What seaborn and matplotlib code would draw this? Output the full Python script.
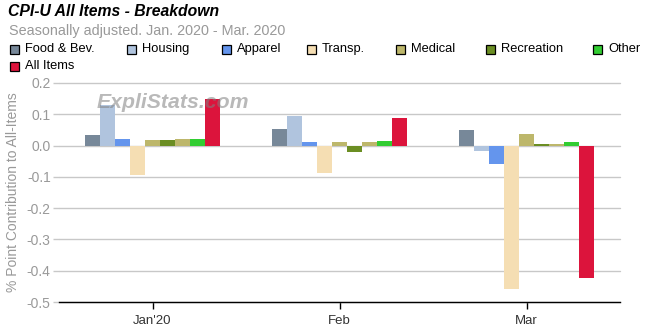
import matplotlib
matplotlib.use("Agg")
import matplotlib.pyplot as plt
import seaborn as sns
import pandas as pd
from matplotlib.patches import Rectangle

# Monthly point contributions to the all-items CPI-U change
months = ["Jan'20", "Feb", "Mar"]
series = ["Food & Bev.", "Housing", "Apparel", "Transp.", "Medical",
          "Recreation", "Educ. & Comm.", "Other", "All Items"]
values = {
    "Food & Bev.":   [0.034, 0.054, 0.051],
    "Housing":       [0.130, 0.095, -0.018],
    "Apparel":       [0.020, 0.013, -0.059],
    "Transp.":       [-0.093, -0.088, -0.460],
    "Medical":       [0.018, 0.010, 0.038],
    "Recreation":    [0.018, -0.021, 0.006],
    "Educ. & Comm.": [0.020, 0.010, 0.006],
    "Other":         [0.020, 0.016, 0.010],
    "All Items":     [0.150, 0.089, -0.424],
}
colors = ["#778899", "#B0C4DE", "#6495ED", "#F5DEB3", "#BDB76B",
          "#6B8E23", "#BDB76B", "#32CD32", "#DC143C"]
legend_series = ["Food & Bev.", "Housing", "Apparel", "Transp.", "Medical",
                 "Recreation", "Other", "All Items"]
yticks = [0.2, 0.1, 0.0, -0.1, -0.2, -0.3, -0.4, -0.5]

rows = [(m, s, values[s][i]) for s in series for i, m in enumerate(months)]
df = pd.DataFrame(rows, columns=["month", "series", "value"])

sns.set_theme(style="white")
plt.rcParams["font.family"] = ["Liberation Sans", "DejaVu Sans"]

W, H = 650, 330
fig = plt.figure(figsize=(W / 100, H / 100), dpi=100)
ax = fig.add_axes([59 / W, 1 - 302 / H, (620 - 59) / W, (302 - 83) / H])

palette = dict(zip(series, colors))
sns.barplot(data=df, x="month", y="value", hue="series", order=months,
            hue_order=series, palette=palette, width=0.722, dodge=True,
            saturation=1, linewidth=0, legend=False, ax=ax)

ax.set_xlim(-0.5, 2.5)
ax.set_ylim(-0.5, 0.2)
ax.set_yticks(yticks)
ax.set_yticklabels([f"{t:.1f}" for t in yticks], color="#999999", fontsize=10)
ax.yaxis.grid(True, color="#C8C8C8", linewidth=1)
for gl in ax.get_ygridlines():
    gl.set_clip_on(False)
ax.set_axisbelow(True)
for side in ["top", "right", "left"]:
    ax.spines[side].set_visible(False)
ax.spines["bottom"].set_color("#000000")
ax.spines["bottom"].set_linewidth(1)
ax.tick_params(axis="x", bottom=True, length=5, width=1, color="#000000",
               labelsize=9.5, labelcolor="#333333", pad=4)
ax.tick_params(axis="y", left=True, length=4, width=1, color="#C8C8C8", pad=2)
ax.set_xlabel("")
ax.set_ylabel("% Point Contribution to All-Items", color="#999999",
              fontsize=10, labelpad=5)

# Title and subtitle
fig.text(8 / W, 1 - 12 / H, "CPI-U All Items - Breakdown", fontsize=11.3,
         fontweight="bold", fontstyle="italic", color="#000000", va="center")
fig.text(9 / W, 1 - 31 / H, "Seasonally adjusted. Jan. 2020 - Mar. 2020",
         fontsize=10.4, color="#999999", va="center")

# Legend entries
legend_pos = [(10, 49), (127, 49), (222, 49), (307, 49), (396, 49),
              (486, 49), (593, 49), (10, 66)]
for name, (lx, ly) in zip(legend_series, legend_pos):
    fig.patches.append(Rectangle((lx / W, 1 - (ly + 4.5) / H), 9 / W, 9 / H,
                                 transform=fig.transFigure,
                                 facecolor=palette[name], edgecolor="#000000",
                                 linewidth=0.9))
    fig.text((lx + 15) / W, 1 - ly / H, name, fontsize=9.3, color="#000000",
             va="center")

# Watermark
fig.text(97 / W, 1 - 102 / H, "ExpliStats.com", fontsize=15.3,
         fontweight="bold", fontstyle="italic", color="#808080", alpha=0.55,
         va="center")

fig.savefig("out.png", dpi=100)
